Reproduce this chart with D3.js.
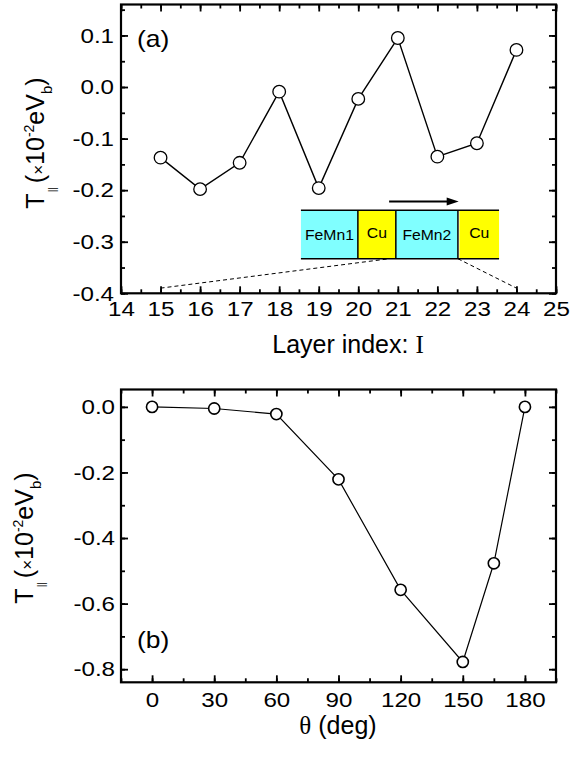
<!DOCTYPE html>
<html><head><meta charset="utf-8">
<script src="https://cdn.jsdelivr.net/npm/d3@7"></script>
<style>
body{margin:0;background:#fff;}
text{font-family:"Liberation Sans",Arial,sans-serif;fill:#000;}
</style></head>
<body><svg id="c" width="570" height="761"></svg>
<script>
// ---- data ----
const layersA = [15,16,17,18,19,20,21,22,23,24];
const torqueA = [-0.137,-0.198,-0.147,-0.009,-0.196,-0.023,0.095,-0.135,-0.109,0.072];
const anglesB = [0,30,60,90,120,150,165,180];
const torqueB = [0.0,-0.005,-0.022,-0.221,-0.558,-0.778,-0.477,0.0];
const xTicksA = [14,15,16,17,18,19,20,21,22,23,24,25];
const xMinorA = d3.range(14,25.01,0.5);
const yTicksA = [-0.4,-0.3,-0.2,-0.1,0.0,0.1];
const yMinorA = d3.range(-0.4,0.16,0.05);
const xTicksB = [0,30,60,90,120,150,180];
const xMinorB = d3.range(-15,195.1,15);
const yTicksB = [-0.8,-0.6,-0.4,-0.2,0.0];
const yMinorB = d3.range(-0.8,0.05,0.1);
const insetLayers = ["FeMn1","Cu","FeMn2","Cu"];

const svg = d3.select("#c");
const L = 121, R = 556;
const SX = 1.15; // horizontal stretch of the original typography

function panel(top, bottom, xDom, yDom, opts){
  const x = d3.scaleLinear().domain(xDom).range([L,R]);
  const y = d3.scaleLinear().domain(yDom).range([bottom,top]);
  const g = svg.append("g");
  const fmtY = opts.fmtY;
  const xa = g.append("g").attr("class","xa").attr("transform",`translate(0,${bottom})`)
    .call(d3.axisBottom(x).tickValues(opts.xTicks).tickSize(-7).tickSizeOuter(0).tickPadding(opts.xPad).tickFormat(d3.format("d")));
  g.append("g").attr("transform",`translate(0,${bottom})`)
    .call(d3.axisBottom(x).tickValues(opts.xMinor).tickSize(-4).tickSizeOuter(0).tickFormat(""));
  g.append("g").attr("transform",`translate(0,${top})`)
    .call(d3.axisTop(x).tickValues(opts.xTicks).tickSize(-7).tickSizeOuter(0).tickFormat(""));
  g.append("g").attr("transform",`translate(0,${top})`)
    .call(d3.axisTop(x).tickValues(opts.xMinor).tickSize(-4).tickSizeOuter(0).tickFormat(""));
  const ya = g.append("g").attr("class","ya").attr("transform",`translate(${L},0)`)
    .call(d3.axisLeft(y).tickValues(opts.yTicks).tickSize(-7).tickSizeOuter(0).tickPadding(opts.yPad).tickFormat(fmtY));
  g.append("g").attr("transform",`translate(${L},0)`)
    .call(d3.axisLeft(y).tickValues(opts.yMinor).tickSize(-4).tickSizeOuter(0).tickFormat(""));
  g.append("g").attr("transform",`translate(${R},0)`)
    .call(d3.axisRight(y).tickValues(opts.yTicks).tickSize(-7).tickSizeOuter(0).tickFormat(""));
  g.append("g").attr("transform",`translate(${R},0)`)
    .call(d3.axisRight(y).tickValues(opts.yMinor).tickSize(-4).tickSizeOuter(0).tickFormat(""));
  g.selectAll(".domain").remove();
  g.selectAll(".tick line").attr("stroke","#000").attr("stroke-width",1.8);
  g.selectAll(".tick text").attr("font-size","21px").attr("font-family","Liberation Sans, Arial, sans-serif").attr("fill","#000");
  xa.selectAll(".tick text").attr("transform",`scale(${SX},1)`);
  ya.selectAll(".tick text").attr("x",-opts.yPad/SX).attr("transform",`scale(${SX},1)`);
  g.append("rect").attr("x",L).attr("y",top).attr("width",R-L).attr("height",bottom-top)
    .attr("fill","none").attr("stroke","#000").attr("stroke-width",2.2);
  return {x,y,g};
}

function fmtMinus(f){ return d => f(d).replace("−","-"); }

// ---- panel (a) ----
const A = panel(4.5, 293.3, [14,25], [-0.4,0.16],
  {xTicks:xTicksA,xMinor:xMinorA,yTicks:yTicksA,yMinor:yMinorA,xPad:8,yPad:7,fmtY:fmtMinus(d3.format(".1f"))});

// inset
const insetBounds = [18.55,19.99,20.95,22.52,23.56];
const insetTop = -0.239, insetBot = -0.333;
const insetColors = ["#80ffff","#ffff00","#80ffff","#ffff00"];
const ig = A.g.append("g");
insetLayers.forEach((name,i)=>{
  const x0 = A.x(insetBounds[i]) + (i===3?1.5:0), x1 = A.x(insetBounds[i+1]);
  ig.append("rect").attr("x",x0).attr("y",A.y(insetTop)).attr("width",x1-x0)
    .attr("height",A.y(insetBot)-A.y(insetTop)).attr("fill",insetColors[i]);
  ig.append("text").attr("transform",`translate(${(x0+x1)/2},${A.y(-0.2857)+(name==="Cu"?-2:0)}) scale(1.05,1)`)
    .attr("dy","0.35em").attr("text-anchor","middle").attr("font-size","15px").text(name);
});
[insetTop,insetBot].forEach(v=>{
  ig.append("line").attr("x1",A.x(insetBounds[0])).attr("x2",A.x(insetBounds[4]))
    .attr("y1",A.y(v)).attr("y2",A.y(v)).attr("stroke","#000").attr("stroke-width",1.5);
});
[1,2,3].forEach(i=>{
  ig.append("line").attr("x1",A.x(insetBounds[i])).attr("x2",A.x(insetBounds[i]))
    .attr("y1",A.y(insetTop)).attr("y2",A.y(insetBot)).attr("stroke","#000").attr("stroke-width",1.5);
});
const ay = A.y(-0.222);
ig.append("line").attr("x1",A.x(20.78)).attr("x2",A.x(22.3)).attr("y1",ay).attr("y2",ay)
  .attr("stroke","#000").attr("stroke-width",2);
ig.append("path").attr("d",`M${A.x(22.54)},${ay} L${A.x(22.54)-12},${ay-4} L${A.x(22.54)-12},${ay+4} Z`).attr("fill","#000");
ig.append("line").attr("x1",A.x(15)).attr("y1",A.y(-0.39)).attr("x2",A.x(20.78)).attr("y2",A.y(insetBot))
  .attr("stroke","#000").attr("stroke-width",1).attr("stroke-dasharray","4,3");
ig.append("line").attr("x1",A.x(22.52)).attr("y1",A.y(insetBot)).attr("x2",A.x(24)).attr("y2",A.y(-0.39))
  .attr("stroke","#000").attr("stroke-width",1).attr("stroke-dasharray","4,3");

const ptsA = layersA.map((l,i)=>[l,torqueA[i]]);
A.g.append("path").datum(ptsA).attr("fill","none").attr("stroke","#000").attr("stroke-width",1.4)
  .attr("d",d3.line().x(d=>A.x(d[0])).y(d=>A.y(d[1])));
A.g.selectAll("circle.a").data(ptsA).join("circle").attr("class","a")
  .attr("cx",d=>A.x(d[0])).attr("cy",d=>A.y(d[1])).attr("r",6.3)
  .attr("fill","#fff").attr("stroke","#000").attr("stroke-width",1.3);
A.g.append("text").attr("transform",`translate(137,47) scale(${SX},1)`).attr("font-size","23px").text("(a)");

// ---- panel (b) ----
const B = panel(389.5, 682.3, [-15,195], [-0.84,0.053],
  {xTicks:xTicksB,xMinor:xMinorB,yTicks:yTicksB,yMinor:yMinorB,xPad:10,yPad:6,fmtY:fmtMinus(d3.format(".1f"))});
const ptsB = anglesB.map((a,i)=>[a,torqueB[i]]);
B.g.append("path").datum(ptsB).attr("fill","none").attr("stroke","#000").attr("stroke-width",1.2)
  .attr("d",d3.line().x(d=>B.x(d[0])).y(d=>B.y(d[1])));
B.g.selectAll("circle.b").data(ptsB).join("circle").attr("class","b")
  .attr("cx",d=>B.x(d[0])).attr("cy",d=>B.y(d[1])).attr("r",5.6)
  .attr("fill","#fff").attr("stroke","#000").attr("stroke-width",1.6);
B.g.append("text").attr("transform",`translate(137,648) scale(${SX},1)`).attr("font-size","23px").text("(b)");

// ---- axis titles ----
function yTitle(cx,cy){
  const t = svg.append("text").attr("transform",`translate(${cx},${cy}) rotate(-90)`)
    .attr("text-anchor","middle").attr("font-size","25px");
  t.append("tspan").text("T");
  t.append("tspan").attr("font-size","10px").attr("dy","12").attr("dx","1").text("||");
  t.append("tspan").attr("dy","-12").attr("dx","4").text("(");
  t.append("tspan").attr("font-size","17px").text("×");
  t.append("tspan").text("10");
  t.append("tspan").attr("font-size","14px").attr("dy","-10").text("-2");
  t.append("tspan").attr("dy","10").text("eV");
  t.append("tspan").attr("font-size","15px").attr("dy","8").text("b");
  t.append("tspan").attr("dy","-8").text(")");
}
yTitle(44,143);
yTitle(33,538);

const xt = svg.append("text").attr("x",348).attr("y",353).attr("text-anchor","middle").attr("font-size","25px");
xt.append("tspan").text("Layer index: ");
xt.append("tspan").attr("font-family","Liberation Serif, Times New Roman, serif").text("I");

const bt = svg.append("text").attr("x",338).attr("y",734).attr("text-anchor","middle").attr("font-size","25px");
bt.append("tspan").attr("font-family","Liberation Serif, Times New Roman, serif").text("θ");
bt.append("tspan").text(" (deg)");
</script></body></html>
